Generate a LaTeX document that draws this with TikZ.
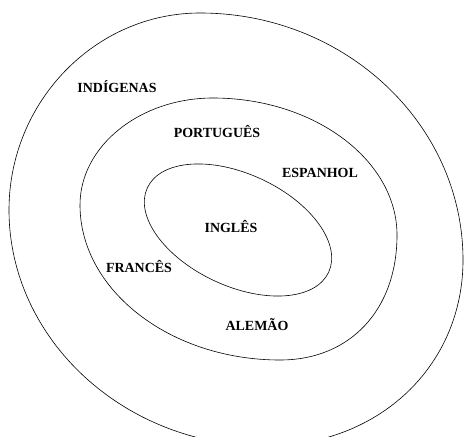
\documentclass[tikz,border=0pt]{standalone}
\usepackage{fontspec}
\setmainfont{Liberation Serif}
\tikzset{
  lingua/.style={anchor=base,inner sep=0pt,font=\fontsize{14}{16}\selectfont\bfseries},
  ring/.style={draw=black,line width=0.6pt}
}
\begin{document}
\begin{tikzpicture}[x=1bp,y=-1bp]
  \useasboundingbox (0,0) rectangle (464,437);

  % the three rings
  \draw[ring] (200,13) .. controls (345,13) and (463,124) .. (463,260)
              .. controls (463,365) and (380,446) .. (265,446)
              .. controls (124,446) and (9,339) .. (9,210)
              .. controls (9,102) and (95,13) .. (200,13) -- cycle;
  \draw[ring] (213,98) .. controls (314,98) and (397,160) .. (397,235)
              .. controls (397,310) and (350,360) .. (280,360)
              .. controls (170,360) and (80,290) .. (80,205)
              .. controls (80,146) and (140,98) .. (213,98) -- cycle;
  \draw[ring,rotate around={-25:(238,230)}] (238,230) ellipse [x radius=100,y radius=56];

  % the labels
  \node[lingua] (indigenas) at (117,93)  {INDÍGENAS};
  \node[lingua] (portugues) at (217,138) {PORTUGUÊS};
  \node[lingua] (espanhol)  at (320,178) {ESPANHOL};
  \node[lingua] (ingles)    at (231,232) {INGLÊS};
  \node[lingua] (frances)   at (139,272) {FRANCÊS};
  \node[lingua] (alemao)    at (257,330) {ALEMÃO};
\end{tikzpicture}
\end{document}
